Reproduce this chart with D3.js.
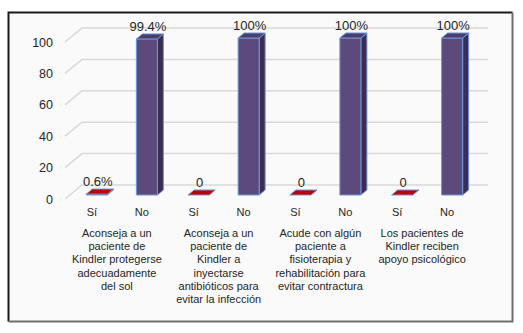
<!DOCTYPE html>
<html>
<head>
<meta charset="utf-8">
<script src="https://cdn.jsdelivr.net/npm/d3@7"></script>
<style>
  html, body { margin: 0; padding: 0; background: #ffffff; }
  svg { display: block; font-family: "Liberation Sans", Arial, sans-serif; }
</style>
</head>
<body>
<svg id="chart" width="523" height="333"></svg>
<script>
// Survey answers (%) per question
const categories = [
  ["Aconseja a un", "paciente de", "Kindler protegerse", "adecuadamente", "del sol"],
  ["Aconseja a un", "paciente de", "Kindler a", "inyectarse", "antibióticos para", "evitar la infección"],
  ["Acude con algún", "paciente a", "fisioterapia y", "rehabilitación para", "evitar contractura"],
  ["Los pacientes de", "Kindler reciben", "apoyo psicológico"]
];
const seriesNames = ["Sí", "No"];
const siValues = [0.6, 0, 0, 0];
const noValues = [99.4, 100, 100, 100];
const siLabels = ["0.6%", "0", "0", "0"];
const noLabels = ["99.4%", "100%", "100%", "100%"];
const yTicks = [0, 20, 40, 60, 80, 100];

const svg = d3.select("#chart");

// frame
svg.append("rect").attr("x", 8.5).attr("y", 12.5).attr("width", 504).attr("height", 309)
  .attr("fill", "#fafafa").attr("stroke", "none");
svg.append("path").attr("d", "M8.5,321.5 V12.5 H512.5").attr("fill", "none")
  .attr("stroke", "#1a1a1a").attr("stroke-width", 2);
svg.append("path").attr("d", "M512.5,12.5 V321.5 H8.5").attr("fill", "none")
  .attr("stroke", "#6e6e6e").attr("stroke-width", 2);

// depth of the floor / back wall and of the bars
const wallDx = 17, wallDy = 14;
const barDx = 6, barDy = 5;

// value scales: back wall and bar front faces
const yBack = d3.scaleLinear().domain([0, 100]).range([185, 28]);
const yBar = d3.scaleLinear().domain([0, 100]).range([195, 38]);

const xGroup = d3.scaleBand().domain(d3.range(categories.length)).range([71, 478]);
const xInner = d3.scaleBand().domain(seriesNames).range([0, xGroup.bandwidth()])
  .paddingInner(0.58).paddingOuter(0.307);

const wallLeft = 65, gridRight = 488;

// gridlines running onto the back wall
svg.append("g").selectAll("path").data(yTicks).join("path")
  .attr("d", v => `M${wallLeft},${yBack(v) + wallDy} L${wallLeft + wallDx},${yBack(v)} L${gridRight},${yBack(v)}`)
  .attr("fill", "none").attr("stroke", "#d9d9d9").attr("stroke-width", 1.5);

// y axis labels
svg.append("g").selectAll("text").data(yTicks).join("text")
  .attr("x", 53).attr("y", v => yBack(v) + wallDy + 4.5)
  .attr("text-anchor", "end").attr("font-size", 12.5).attr("fill", "#262626")
  .text(d => d);

// bar records
const bars = [];
categories.forEach((c, i) => {
  bars.push({ g: i, s: "Sí", v: siValues[i], label: siLabels[i] });
  bars.push({ g: i, s: "No", v: noValues[i], label: noLabels[i] });
});

const colors = {
  "Sí": { front: "#c00000", side: "#8a0000", top: "#c00000" },
  "No": { front: "#5c4a7d", side: "#3b2e52", top: "#4d3d6a" }
};

const gBars = svg.append("g");
bars.forEach(b => {
  const x0 = xGroup(b.g) + xInner(b.s);
  const w = xInner.bandwidth();
  const y0 = yBar(0), y1 = yBar(b.v);
  const col = colors[b.s];
  const g = gBars.append("g").attr("stroke", "#6f95d6").attr("stroke-width", 1)
    .attr("stroke-linejoin", "round");
  // side face
  g.append("path")
    .attr("d", `M${x0 + w},${y0} L${x0 + w + barDx},${y0 - barDy} L${x0 + w + barDx},${y1 - barDy} L${x0 + w},${y1} Z`)
    .attr("fill", col.side);
  // front face
  if (y0 - y1 > 0.5) {
    g.append("rect").attr("x", x0).attr("y", y1).attr("width", w).attr("height", y0 - y1)
      .attr("fill", col.front);
  }
  // top face
  g.append("path")
    .attr("d", `M${x0},${y1} L${x0 + barDx},${y1 - barDy} L${x0 + w + barDx},${y1 - barDy} L${x0 + w},${y1} Z`)
    .attr("fill", col.top);
  // value label
  svg.append("text")
    .attr("x", x0 + w / 2 + 1).attr("y", y1 - barDy - 3)
    .attr("text-anchor", "middle").attr("font-size", 13).attr("fill", "#262626")
    .text(b.label);
});

// series labels under each bar
const labelShift = -5;
bars.forEach(b => {
  svg.append("text")
    .attr("x", xGroup(b.g) + xInner(b.s) + xInner.bandwidth() / 2 + labelShift)
    .attr("y", 216).attr("text-anchor", "middle").attr("font-size", 11).attr("fill", "#262626")
    .text(b.s);
});

// question labels
categories.forEach((lines, i) => {
  const cx = (xGroup(i) + xInner("Sí") + xGroup(i) + xInner("No") + xInner.bandwidth()) / 2 + labelShift;
  const t = svg.append("text").attr("text-anchor", "middle").attr("font-size", 11).attr("fill", "#262626");
  lines.forEach((ln, k) => {
    t.append("tspan").attr("x", cx).attr("y", 237 + k * 13.2).text(ln);
  });
});
</script>
</body>
</html>
